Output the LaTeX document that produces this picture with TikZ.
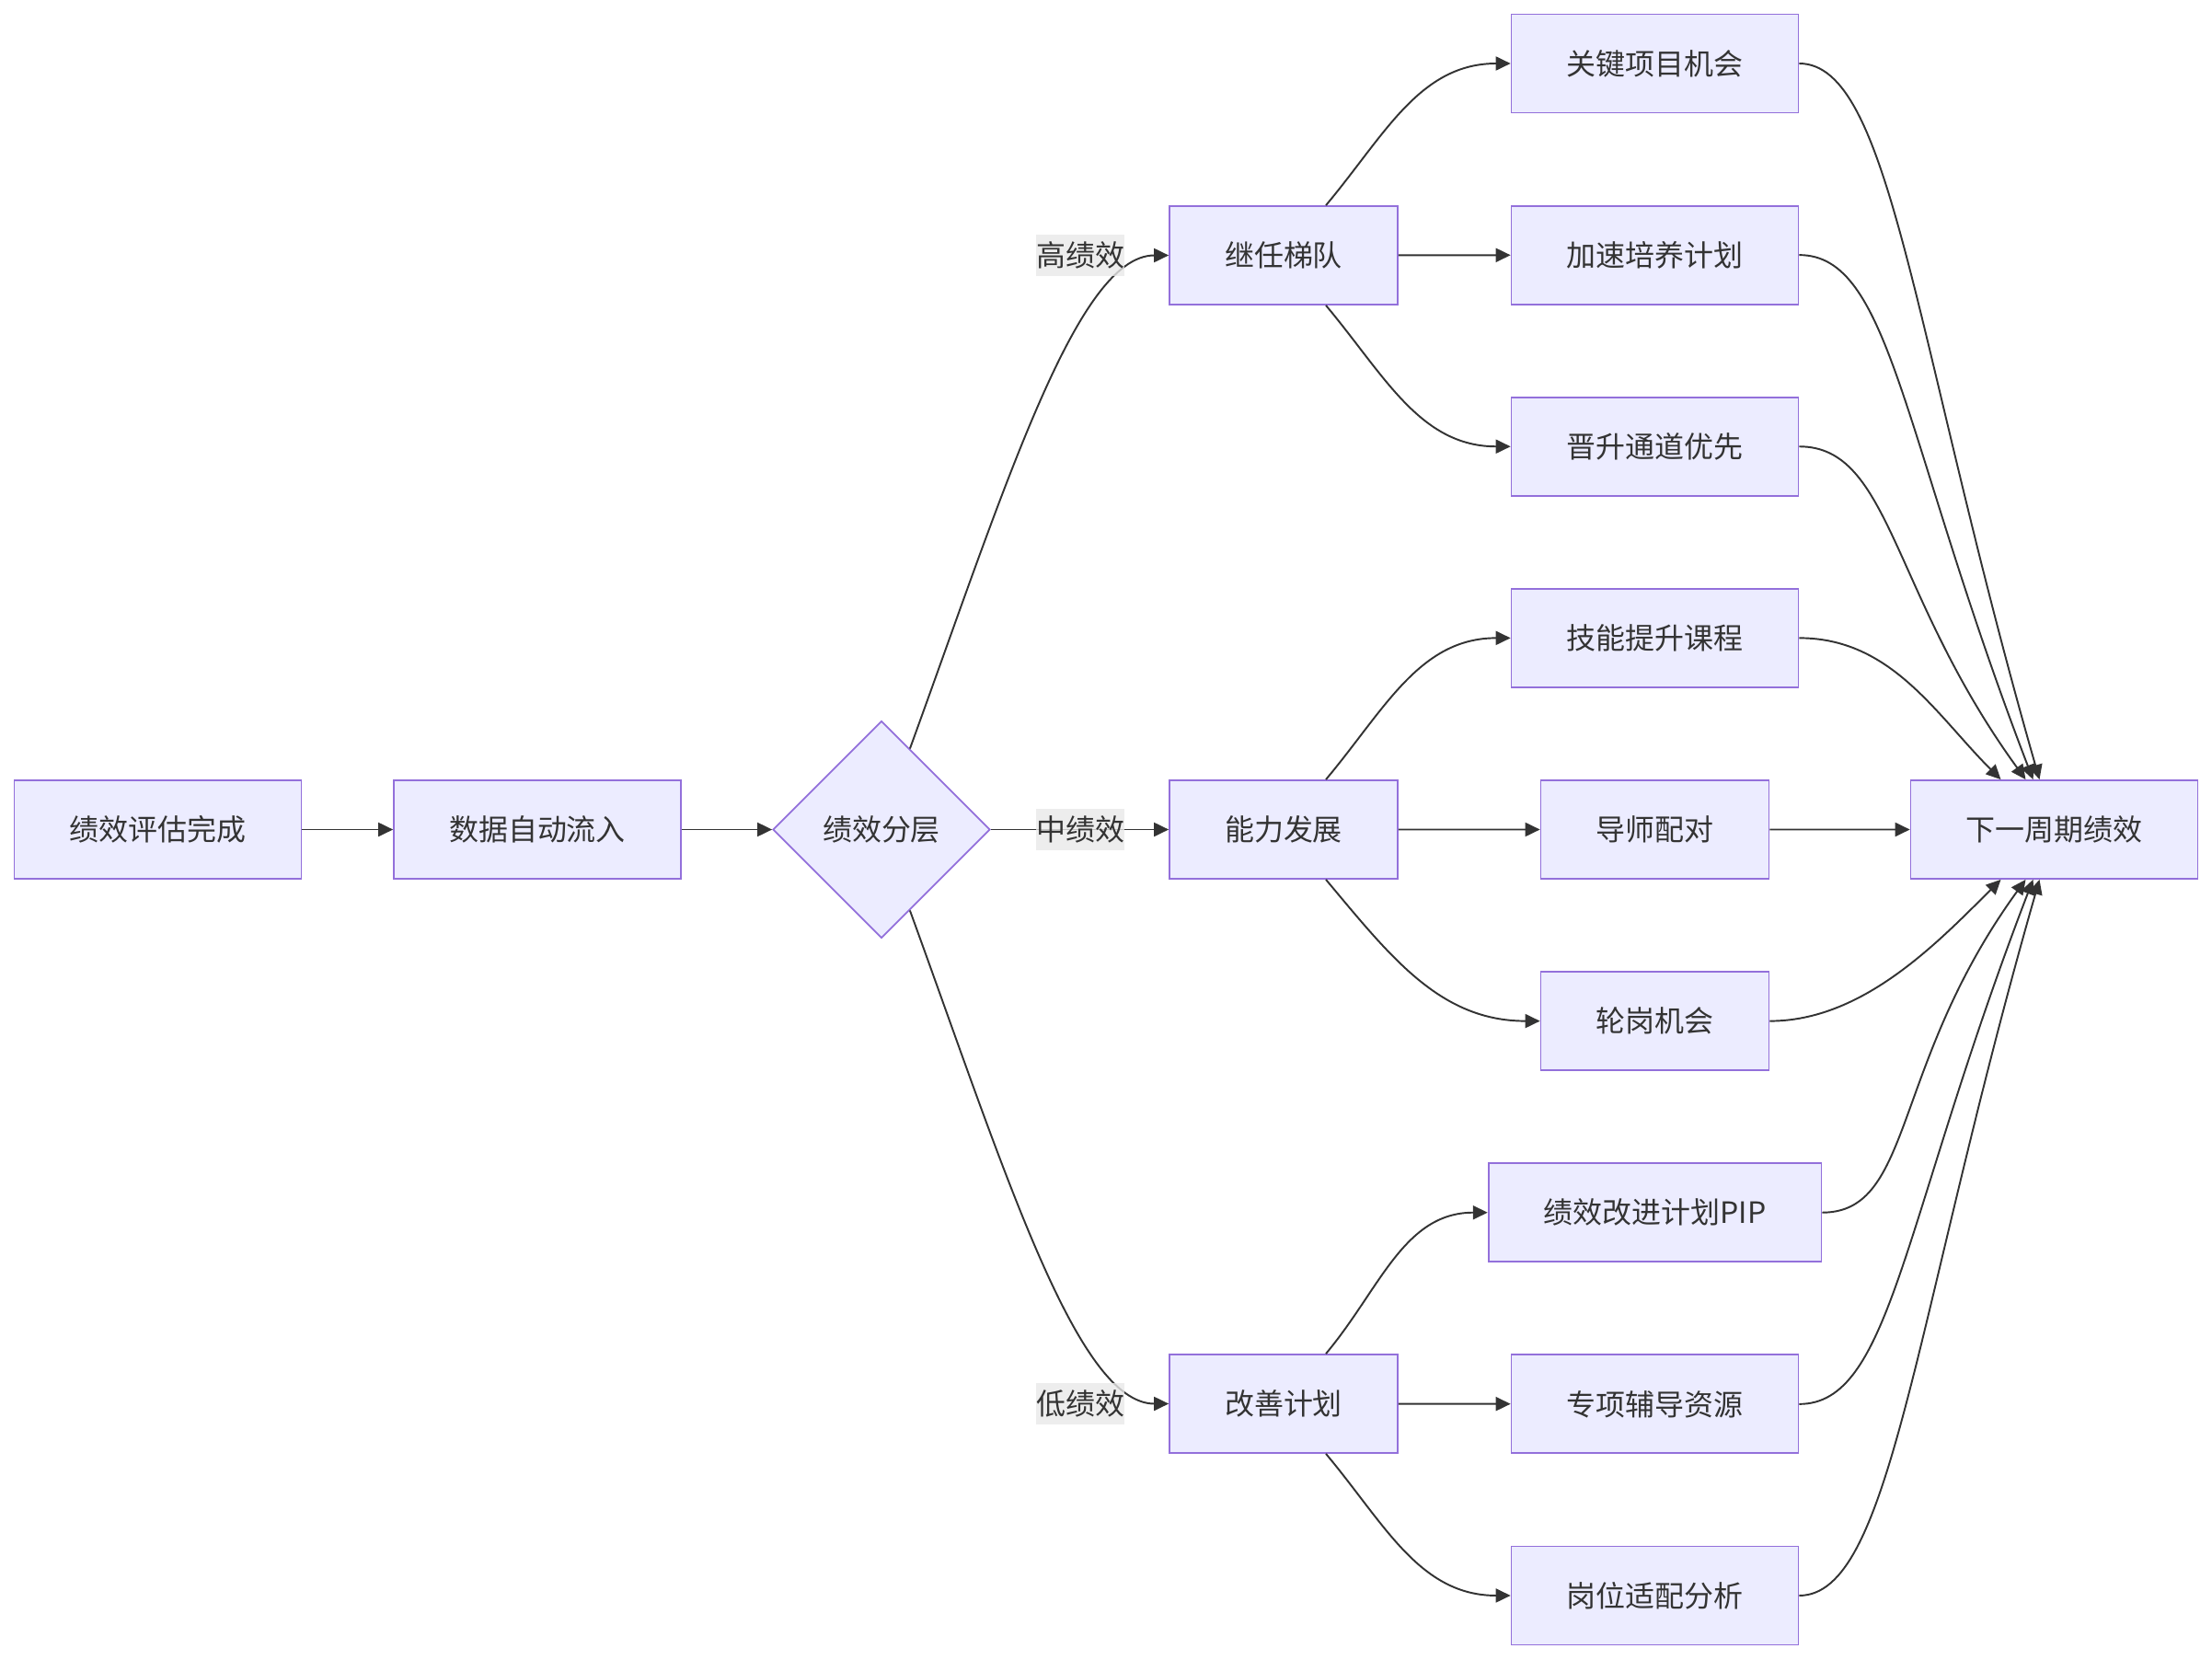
\documentclass[tikz,border=0pt]{standalone}
\usepackage{fontspec}
\newfontfamily\cjk{Noto Sans CJK SC}
\usepackage{tikz}
\usetikzlibrary{positioning, arrows.meta, shapes.geometric, calc}
\definecolor{FlowFill}{HTML}{ECECFF}
\definecolor{FlowLine}{HTML}{9370DB}
\definecolor{FlowInk}{HTML}{333333}
\definecolor{FlowTag}{HTML}{E8E8E8}

\begin{document}
\begin{tikzpicture}[font=\cjk\fontsize{9.1pt}{11pt}\selectfont, text=FlowInk,
  box/.style={draw=FlowLine, fill=FlowFill, line width=0.5pt, minimum height=1.07cm, inner xsep=0.6cm, inner ysep=0pt},
  choice/.style={draw=FlowLine, fill=FlowFill, line width=0.5pt, diamond, aspect=1, minimum width=2.36cm, minimum height=2.36cm, inner sep=0pt},
  flow/.style={draw=FlowInk, line width=0.55pt, -{Triangle[length=0.16cm, width=0.15cm]}},
  tag/.style={fill=FlowTag, fill opacity=0.8, text opacity=1, inner xsep=0pt, inner ysep=0pt, minimum height=0.45cm}]
  \useasboundingbox (0,0) rectangle (24.04,-18.04);
  \node[box] (eval) at (1.715,-9.015) {绩效评估完成};
  \node[box] (data) at (5.84,-9.015) {数据自动流入};
  \node[choice] (split) at (9.58,-9.015) {绩效分层};
  \node[box] (succ) at (13.95,-2.775) {继任梯队};
  \node[box] (grow) at (13.95,-9.015) {能力发展};
  \node[box] (fix) at (13.95,-15.255) {改善计划};
  \foreach \n/\t/\k in {g1/关键项目机会/0, g2/加速培养计划/1, g3/晋升通道优先/2,
      h1/技能提升课程/3, h2/导师配对/4, h3/轮岗机会/5,
      i1/绩效改进计划PIP/6, i2/专项辅导资源/7, i3/岗位适配分析/8}
    \node[box] (\n) at (17.985,-0.69-2.0812*\k) {\t};
  \node[box] (next) at (22.325,-9.015) {下一周期绩效};

  \draw[flow] (eval) -- (data);
  \draw[flow] (data) -- (split);
  \draw[flow] ($(split.north)!0.26!(split.east)$) to[out=70, in=180, out distance=3cm, in distance=1cm] (succ.west);
  \draw[flow] (split) -- (grow);
  \draw[flow] ($(split.south)!0.26!(split.east)$) to[out=-70, in=180, out distance=3cm, in distance=1cm] (fix.west);
  \foreach \p/\a/\b/\c in {succ/g1/g2/g3, grow/h1/h2/h3, fix/i1/i2/i3} {
    \draw[flow] ([xshift=0.46cm]\p.north) to[out=50, in=180] (\a.west);
    \draw[flow] (\p) -- (\b);
    \draw[flow] ([xshift=0.46cm]\p.south) to[out=-50, in=180] (\c.west);
  }
  \foreach \n/\dx/\ang/\d in {g1/-0.16/106/5, g2/-0.23/111/4, g3/-0.31/126/2.5, h1/-0.58/135/1}
    \draw[flow] (\n.east) to[out=0, in=\ang, out distance=1cm, in distance=\d cm] ([xshift=\dx cm]next.north);
  \draw[flow] (h2) -- (next);
  \foreach \n/\dx/\ang/\d in {h3/-0.58/225/1, i1/-0.31/234/2.5, i2/-0.23/249/4, i3/-0.16/254/5}
    \draw[flow] (\n.east) to[out=0, in=\ang, out distance=1cm, in distance=\d cm] ([xshift=\dx cm]next.south);

  \node[tag] (hi) at (11.74,-2.775) {高绩效};
  \node[tag] (mid) at (11.74,-9.015) {中绩效};
  \node[tag] (lo) at (11.74,-15.255) {低绩效};
\end{tikzpicture}
\end{document}
